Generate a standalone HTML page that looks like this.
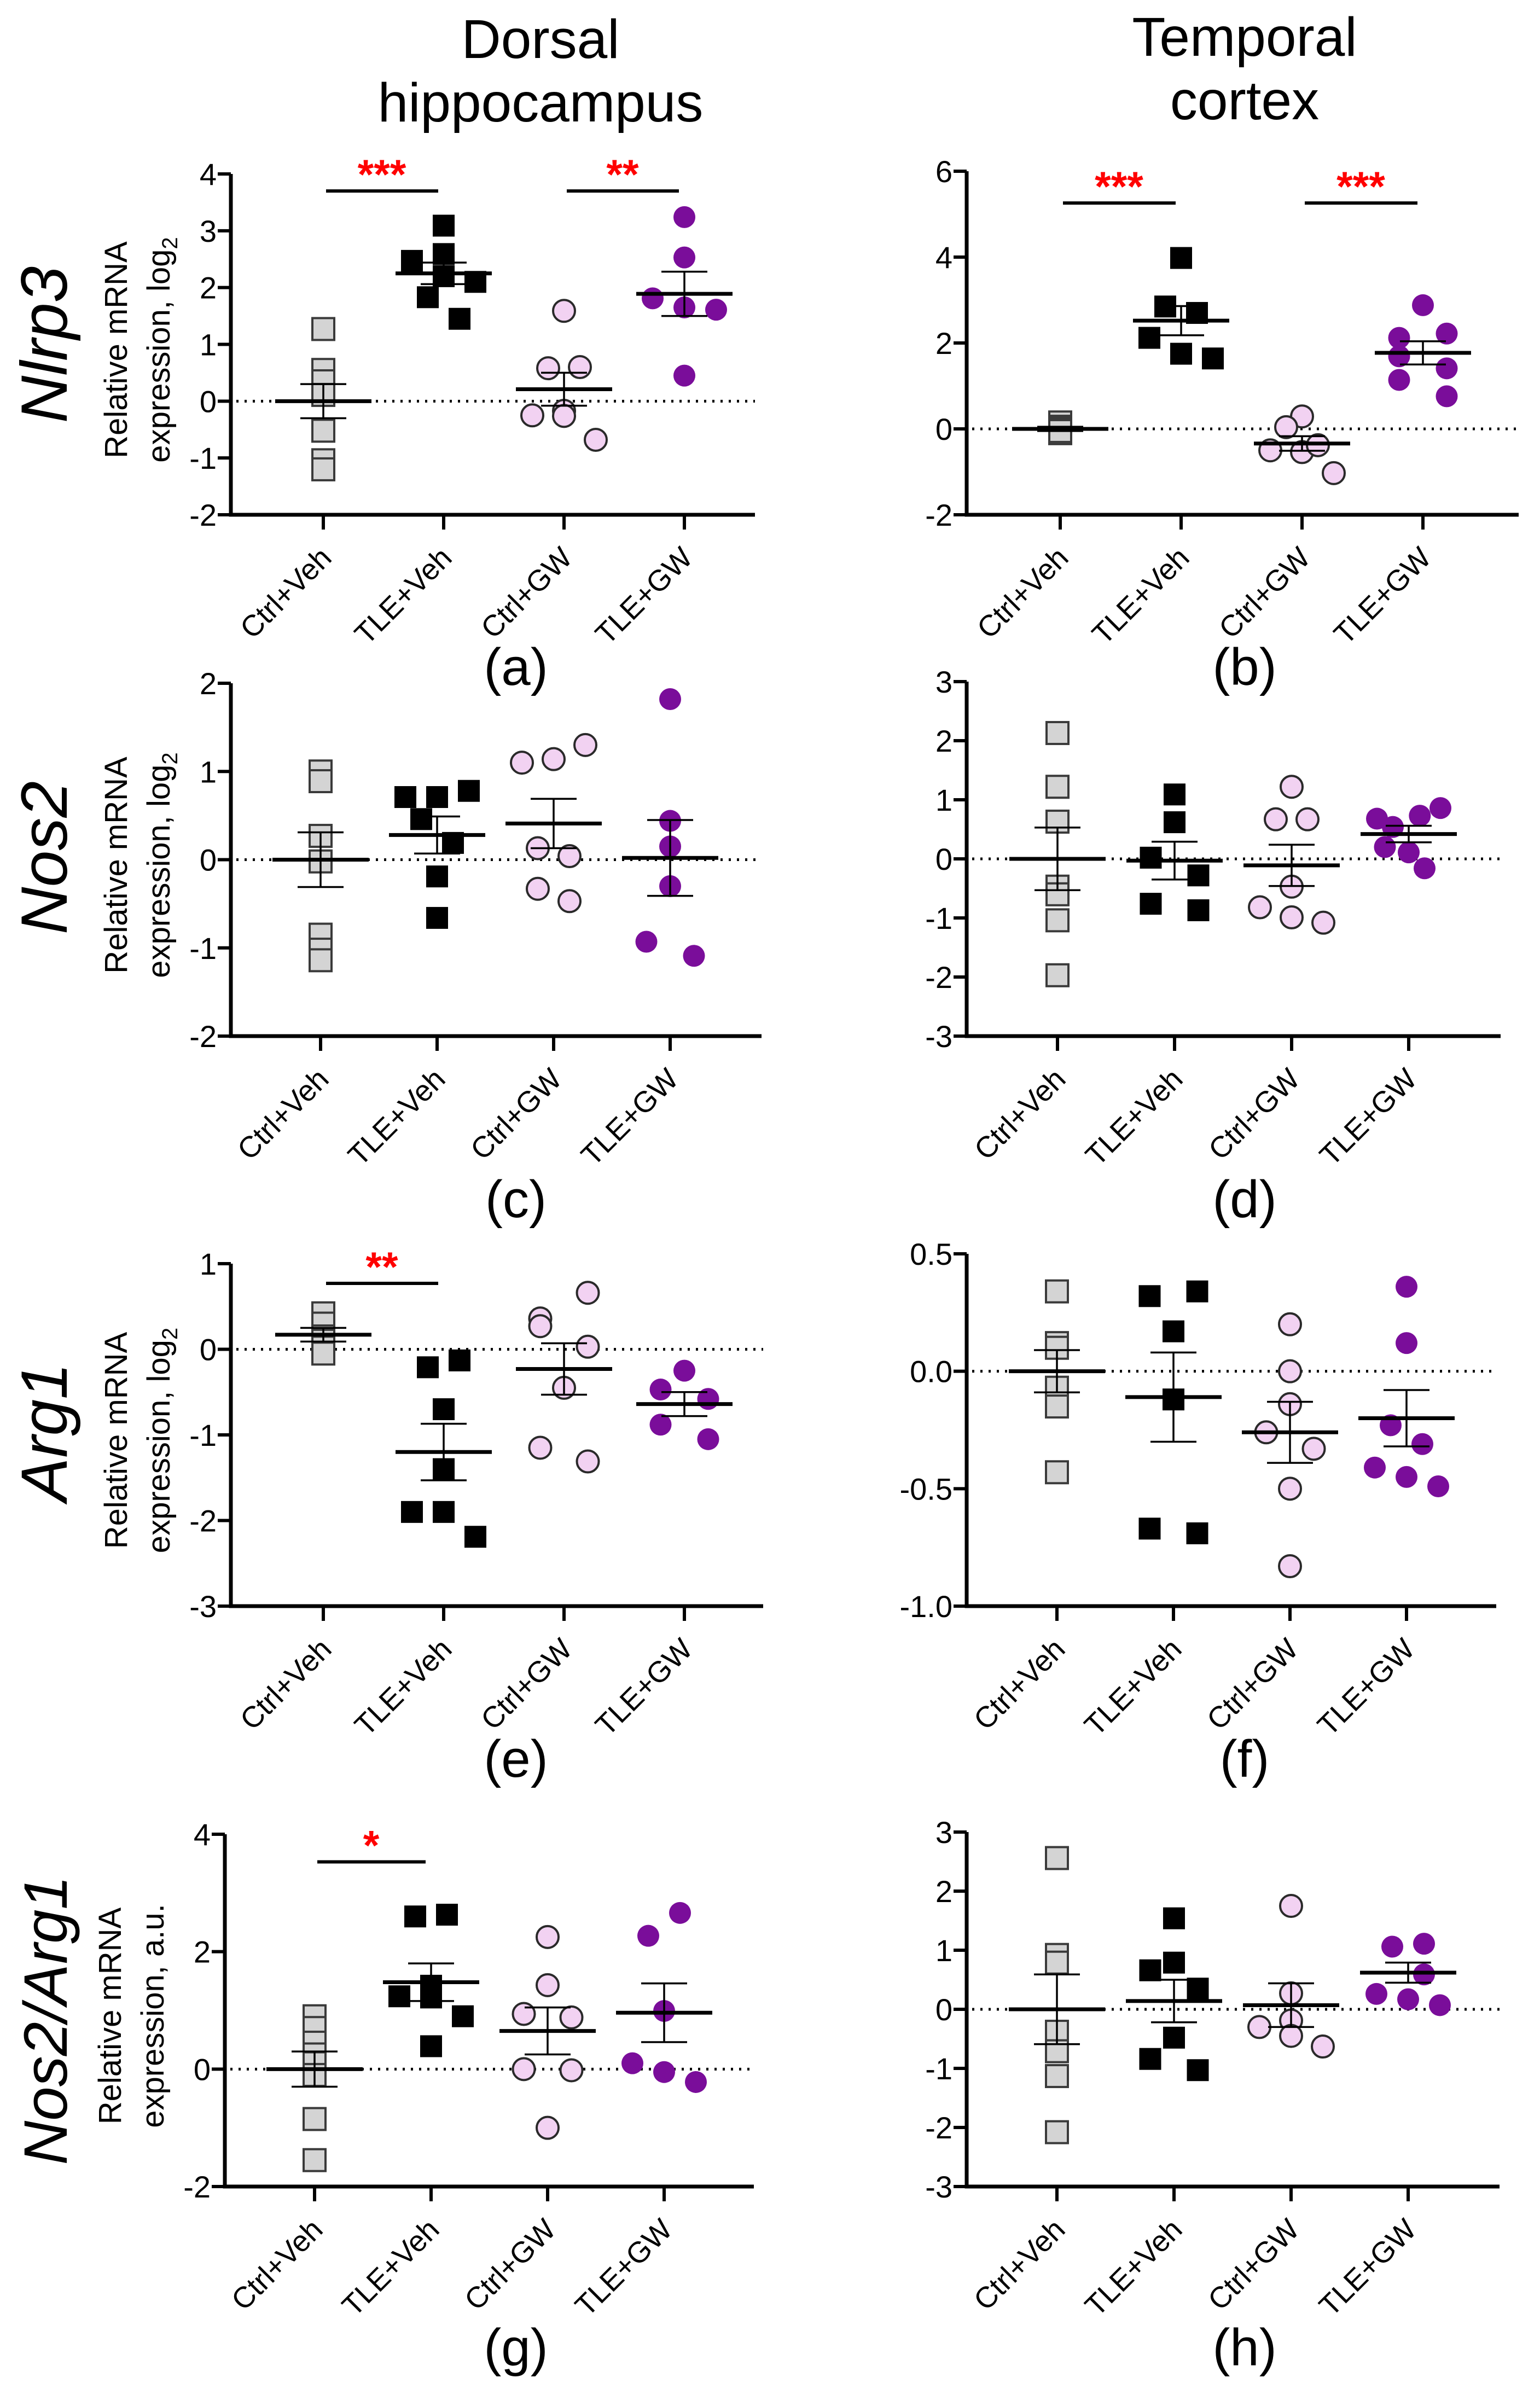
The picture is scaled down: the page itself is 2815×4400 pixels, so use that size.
<!DOCTYPE html>
<html><head><meta charset="utf-8"><style>
html,body{margin:0;padding:0;background:#fff;}
svg{display:block;font-family:"Liberation Sans",Arial,sans-serif;}
</style></head><body>
<svg id="fig" width="2815" height="4400" viewBox="0 0 2815 4400" xmlns="http://www.w3.org/2000/svg">
<text x="988" y="106" font-size="100" text-anchor="middle">Dorsal</text>
<text x="988" y="222" font-size="100" text-anchor="middle">hippocampus</text>
<text x="2275" y="102" font-size="100" text-anchor="middle">Temporal</text>
<text x="2275" y="218" font-size="100" text-anchor="middle">cortex</text>
<text transform="translate(122,630) rotate(-90)" font-size="120" font-style="italic" text-anchor="middle">Nlrp3</text>
<text transform="translate(122,1568) rotate(-90)" font-size="120" font-style="italic" text-anchor="middle">Nos2</text>
<text transform="translate(122,2618) rotate(-90)" font-size="120" font-style="italic" text-anchor="middle">Arg1</text>
<text transform="translate(122,3693) rotate(-90)" font-size="112" font-style="italic" text-anchor="middle">Nos2/Arg1</text>
</svg>
<script>
const categories = ["Ctrl+Veh","TLE+Veh","Ctrl+GW","TLE+GW"];

// Panel a
const aCtrlVeh = [1.27,0.55,0.35,0.11,-0.52,-1.04,-1.2];
const aTleVeh = [3.09,2.47,2.59,2.2,2.1,1.83,1.45];
const aCtrlGw = [1.59,0.58,0.6,-0.25,-0.17,-0.26,-0.68];
const aTleGw = [3.24,2.53,1.81,1.65,1.61,0.45];
const aMeans = [0,2.25,0.21,1.89];
const aSems = [0.3,0.19,0.29,0.39];
const aTicks = [-2,-1,0,1,2,3,4];
const aTickLabels = ["-2","-1","0","1","2","3","4"];
// Panel b
const bCtrlVeh = [0.15,0.05,0,-0.05,-0.1,-0.05];
const bTleVeh = [3.98,2.85,2.7,2.12,1.75,1.64];
const bCtrlGw = [0.29,0.04,-0.5,-0.54,-0.38,-1.03];
const bTleGw = [2.88,2.12,2.22,1.69,1.41,1.14,0.76];
const bMeans = [0,2.52,-0.34,1.77];
const bSems = [0.05,0.34,0.17,0.27];
const bTicks = [-2,0,2,4,6];
const bTickLabels = ["-2","0","2","4","6"];
// Panel c
const cCtrlVeh = [1.0,0.89,0.27,-0.02,-0.85,-1.02,-1.14];
const cTleVeh = [0.71,0.71,0.78,0.46,0.19,-0.19,-0.66];
const cCtrlGw = [1.1,1.14,1.3,0.13,0.04,-0.33,-0.47];
const cTleGw = [1.82,0.44,0.15,-0.3,-0.93,-1.09];
const cMeans = [0,0.28,0.41,0.02];
const cSems = [0.31,0.21,0.28,0.43];
const cTicks = [-2,-1,0,1,2];
const cTickLabels = ["-2","-1","0","1","2"];
// Panel d
const dCtrlVeh = [2.13,1.22,0.63,-0.47,-0.6,-1.04,-1.97];
const dTleVeh = [1.09,0.62,0.02,-0.28,-0.76,-0.87];
const dCtrlGw = [1.22,0.67,0.67,-0.47,-0.82,-0.99,-1.08];
const dTleGw = [0.68,0.73,0.86,0.54,0.2,0.11,-0.16];
const dMeans = [0,-0.03,-0.11,0.42];
const dSems = [0.53,0.32,0.35,0.14];
const dTicks = [-3,-2,-1,0,1,2,3];
const dTickLabels = ["-3","-2","-1","0","1","2","3"];
// Panel e
const eCtrlVeh = [0.42,0.3,0.15,0.1,0.02,-0.05];
const eTleVeh = [-0.21,-0.13,-0.7,-1.4,-1.9,-1.9,-2.19];
const eCtrlGw = [0.36,0.27,0.66,0.03,-0.45,-1.15,-1.31];
const eTleGw = [-0.25,-0.47,-0.58,-0.88,-1.05];
const eMeans = [0.17,-1.2,-0.23,-0.64];
const eSems = [0.08,0.33,0.3,0.14];
const eTicks = [-3,-2,-1,0,1];
const eTickLabels = ["-3","-2","-1","0","1"];
// Panel f
const fCtrlVeh = [0.34,0.12,0.1,-0.07,-0.15,-0.43];
const fTleVeh = [0.32,0.34,0.17,-0.12,-0.67,-0.69];
const fCtrlGw = [0.2,0,-0.14,-0.26,-0.33,-0.5,-0.83];
const fTleGw = [0.36,0.12,-0.23,-0.31,-0.41,-0.45,-0.49];
const fMeans = [0,-0.11,-0.26,-0.2];
const fSems = [0.09,0.19,0.13,0.12];
const fTicks = [-1,-0.5,0,0.5];
const fTickLabels = ["-1.0","-0.5","0.0","0.5"];
// Panel g
const gCtrlVeh = [0.9,0.7,0.45,0.25,0.1,-0.1,-0.85,-1.55];
const gTleVeh = [2.6,2.63,1.42,1.22,1.24,0.9,0.39];
const gCtrlGw = [2.25,1.43,0.94,0.88,0,-0.02,-1.0];
const gTleGw = [2.66,2.27,0.99,0.1,-0.05,-0.22];
const gMeans = [0,1.48,0.65,0.96];
const gSems = [0.3,0.32,0.4,0.5];
const gTicks = [-2,0,2,4];
const gTickLabels = ["-2","0","2","4"];
// Panel h
const hCtrlVeh = [2.56,0.92,0.79,-0.38,-0.71,-1.13,-2.08];
const hTleVeh = [1.54,0.79,0.66,0.35,-0.48,-0.84,-1.03];
const hCtrlGw = [1.75,0.27,-0.19,-0.3,-0.45,-0.63];
const hTleGw = [1.06,1.11,0.59,0.26,0.17,0.07];
const hMeans = [0,0.14,0.07,0.62];
const hSems = [0.59,0.36,0.37,0.17];
const hTicks = [-3,-2,-1,0,1,2,3];
const hTickLabels = ["-3","-2","-1","0","1","2","3"];

// significance comparisons: [group i, group j, level (data units), stars]
const aSig = [[0,1,3.7,"***"],[2,3,3.7,"**"]];
const bSig = [[0,1,5.26,"***"],[2,3,5.26,"***"]];
const eSig = [[0,1,0.77,"**"]];
const gSig = [[0,1,3.53,"*"]];

// layout only (jitter in marker-widths, panel geometry)
const aJit=[[0,0,0,0,0,0,0],[0,-2,0,0,2,-1,1],[0,-1,1,-2,0,0,2],[0,0,-2,0,2,0]];
const bJit=[[0,0,0,0,0,0],[0,-1,1,-2,0,2],[0,-1,-2,0,1,2],[0,-1.5,1.5,-1.5,1.5,-1.5,1.5]];
const cJit=[[0,0,0,0,0,0,0],[-2,0,2,-1,1,0,0],[-2,0,2,-1,1,-1,1],[0,0,0,0,-1.5,1.5]];
const dJit=[[0,0,0,0,0,0,0],[0,0,-1.5,1.5,-1.5,1.5],[0,-1,1,0,-2,0,2],[-2,0.7,2,-1,-1.5,0,1]];
const eJit=[[0,0,0,0,0,0],[-1,1,0,0,-2,0,2],[-1.5,-1.5,1.5,1.5,0,-1.5,1.5],[0,-1.5,1.5,-1.5,1.5]];
const fJit=[[0,0,0,0,0,0],[-1.5,1.5,0,0,-1.5,1.5],[0,0,0,-1.5,1.5,0,0],[0,0,-1,1,-2,0,2]];
const gJit=[[0,0,0,0,0,0,0,0],[-1,1,0,0,-2,2,0],[0,0,-1.5,1.5,-1.5,1.5,0],[1,-1,0,-2,0,2]];
const hJit=[[0,0,0,0,0,0,0],[0,0,-1.5,1.5,0,-1.5,1.5],[0,0,0,-2,0,2],[-1,1,1,-2,0,2]];

const NS="http://www.w3.org/2000/svg";
const svg=document.getElementById('fig');
function mk(tag,attrs,parent){const e=document.createElementNS(NS,tag);for(const k in attrs)e.setAttribute(k,attrs[k]);(parent||svg).appendChild(e);return e;}

const panels=[
 {id:'a',groups:[aCtrlVeh,aTleVeh,aCtrlGw,aTleGw],means:aMeans,sems:aSems,ticks:aTicks,tl:aTickLabels,sig:aSig,jit:aJit,x0:422,x1:1380,yT:318,yB:941,f:169,s:220,lx:943,ly:1252,ytitle:"log"},
 {id:'b',groups:[bCtrlVeh,bTleVeh,bCtrlGw,bTleGw],means:bMeans,sems:bSems,ticks:bTicks,tl:bTickLabels,sig:bSig,jit:bJit,x0:1767,x1:2776,yT:313,yB:941,f:171,s:221,lx:2275,ly:1252},
 {id:'c',groups:[cCtrlVeh,cTleVeh,cCtrlGw,cTleGw],means:cMeans,sems:cSems,ticks:cTicks,tl:cTickLabels,sig:[],jit:cJit,x0:422,x1:1392,yT:1249,yB:1894,f:164,s:213,lx:943,ly:2225,ytitle:"log"},
 {id:'d',groups:[dCtrlVeh,dTleVeh,dCtrlGw,dTleGw],means:dMeans,sems:dSems,ticks:dTicks,tl:dTickLabels,sig:[],jit:dJit,x0:1767,x1:2743,yT:1246,yB:1894,f:166,s:214,lx:2275,ly:2225},
 {id:'e',groups:[eCtrlVeh,eTleVeh,eCtrlGw,eTleGw],means:eMeans,sems:eSems,ticks:eTicks,tl:eTickLabels,sig:eSig,jit:eJit,x0:422,x1:1395,yT:2310,yB:2936,f:169,s:220,lx:943,ly:3248,ytitle:"log"},
 {id:'f',groups:[fCtrlVeh,fTleVeh,fCtrlGw,fTleGw],means:fMeans,sems:fSems,ticks:fTicks,tl:fTickLabels,sig:[],jit:fJit,x0:1767,x1:2735,yT:2292,yB:2936,f:165,s:213,lx:2275,ly:3248},
 {id:'g',groups:[gCtrlVeh,gTleVeh,gCtrlGw,gTleGw],means:gMeans,sems:gSems,ticks:gTicks,tl:gTickLabels,sig:gSig,jit:gJit,x0:411,x1:1378,yT:3353,yB:3997,f:164,s:213,lx:943,ly:4324,ytitle:"au"},
 {id:'h',groups:[hCtrlVeh,hTleVeh,hCtrlGw,hTleGw],means:hMeans,sems:hSems,ticks:hTicks,tl:hTickLabels,sig:[],jit:hJit,x0:1767,x1:2741,yT:3349,yB:3997,f:165,s:214,lx:2275,ly:4324}
];

const fills=['#d4d4d4','#000000','#f2d2f2','#7a0d9a'];
const strokes=['#3a3a3a','#000000','#2a2a2a','#7a0d9a'];
const JIT=29, M=40;

panels.forEach(p=>{
  const g=mk('g',{});
  
  
  const ymin=p.ticks[0], ymax=p.ticks[p.ticks.length-1];
  const Y=v=>p.yB-(v-ymin)/(ymax-ymin)*(p.yB-p.yT);
  const X=i=>p.x0+p.f+i*p.s;
  const z=mk('line',{x1:p.x0+10,x2:p.x1,y1:Y(0),y2:Y(0),stroke:'#000','stroke-width':5,'stroke-dasharray':'4 11'},g);
  
  
  p.groups.forEach((vals,gi)=>{
    vals.forEach((v,k)=>{
      const cx=X(gi)+(p.jit[gi][k]||0)*JIT, cy=Y(v);
      let m;
      if(gi<2){m=mk('rect',{x:cx-M/2,y:cy-M/2,width:M,height:M,fill:fills[gi],stroke:strokes[gi],'stroke-width':gi==0?4:0},g);}
      else{m=mk('circle',{cx:cx,cy:cy,r:M/2,fill:fills[gi],stroke:strokes[gi],'stroke-width':gi==2?4:0},g);}
      
      
    });
  });
  p.means.forEach((mv,gi)=>{
    const cx=X(gi), ym=Y(mv), yu=Y(mv+p.sems[gi]), yl=Y(mv-p.sems[gi]);
    const ml=mk('line',{x1:cx-88,x2:cx+88,y1:ym,y2:ym,stroke:'#000','stroke-width':7},g);
    
    
    const el=mk('path',{d:`M${cx},${yu}V${yl}M${cx-42},${yu}H${cx+42}M${cx-42},${yl}H${cx+42}`,stroke:'#000','stroke-width':3.5,fill:'none'},g);
    
    
  });
  const ax=mk('path',{d:`M${p.x0},${p.yT}V${p.yB}H${p.x1}`,stroke:'#000','stroke-width':7,fill:'none'},g);
  
  
  p.ticks.forEach((t,i)=>{
    const y=Y(t);
    const tk=mk('line',{x1:p.x0-24,x2:p.x0,y1:y,y2:y,stroke:'#000','stroke-width':6},g);
    
    
    const tx=mk('text',{x:p.x0-26,y:y+20,'font-size':56,'text-anchor':'end'},g);
    tx.textContent=p.tl[i];
    
    
  });
  categories.forEach((c,i)=>{
    const x=X(i);
    const tk=mk('line',{x1:x,x2:x,y1:p.yB,y2:p.yB+27,stroke:'#000','stroke-width':6},g);
    
    
    const tx=mk('text',{transform:`translate(${x+18},${p.yB+82}) rotate(-45)`,'font-size':54,'text-anchor':'end'},g);
    tx.textContent=c;
    
    
  });
  p.sig.forEach(sg=>{
    const y=Y(sg[2]);
    const bl=mk('line',{x1:X(sg[0])+5,x2:X(sg[1])-10,y1:y,y2:y,stroke:'#000','stroke-width':6},g);
    
    
    const st=mk('text',{x:(X(sg[0])+X(sg[1]))/2-3,y:y-4,'font-size':76,'font-weight':'bold',fill:'#ff0000','text-anchor':'middle'},g);
    st.textContent=sg[3];
    
    
  });
  if(p.ytitle){
    const cy=(p.yT+p.yB)/2+10;
    const t1=mk('text',{transform:`translate(${p.x0-190},${cy}) rotate(-90)`,'font-size':58,'text-anchor':'middle'},g);
    t1.textContent='Relative mRNA';
    
    
    const t2=mk('text',{transform:`translate(${p.x0-112},${cy}) rotate(-90)`,'font-size':58,'text-anchor':'middle'},g);
    if(p.ytitle==='log'){
      t2.appendChild(document.createTextNode('expression, log'));
      const sub=mk('tspan',{'font-size':40,dy:14},t2);
      sub.textContent='2';
    } else t2.textContent='expression, a.u.';
    
    
  }
  const pl=mk('text',{x:p.lx,y:p.ly,'font-size':96,'text-anchor':'middle'},g);
  pl.textContent='('+p.id+')';
  
  
});
</script>
</body></html>
